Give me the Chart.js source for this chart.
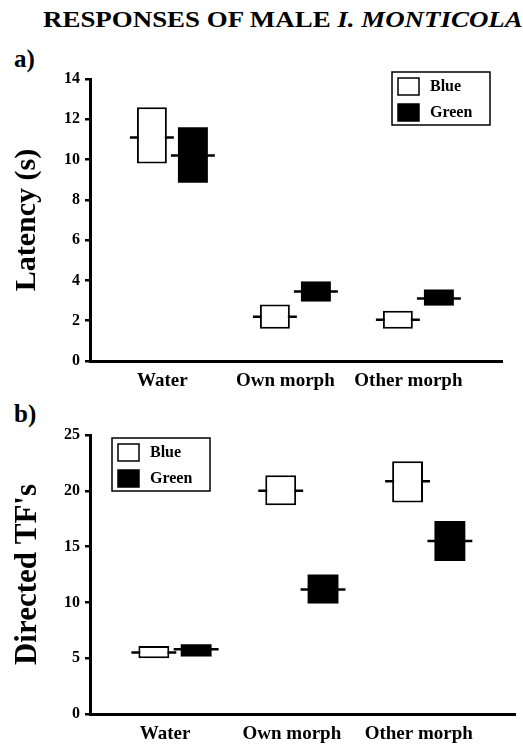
<!DOCTYPE html>
<html>
<head>
<meta charset="utf-8">
<script src="https://cdn.jsdelivr.net/npm/chart.js@4.4.1/dist/chart.umd.min.js"></script>
<style>
  body {
    margin: 0;
    width: 523px;
    height: 746px;
    overflow: hidden;
    background: #fff;
    position: relative;
    font-family: 'Liberation Serif', 'Times New Roman', serif;
  }
  #titulo {
    position: absolute;
    left: 43px;
    top: 7px;
    font-weight: bold;
    font-size: 23px;
    white-space: nowrap;
    transform: scaleX(1.17);
    transform-origin: left top;
  }
  .painel {
    position: absolute;
    left: 14px;
    font-weight: bold;
    font-size: 25px;
  }
  #graficoLatencia { position: absolute; left: 0; top: 0; }
  #graficoTFs { position: absolute; left: 0; top: 395px; }
</style>
</head>
<body>

<div id="titulo">RESPONSES OF MALE <i>I. MONTICOLA</i></div>
<div class="painel" style="top:45px">a)</div>
<div class="painel" style="top:400px">b)</div>

<canvas id="graficoLatencia" width="523" height="395"></canvas>
<canvas id="graficoTFs" width="523" height="351"></canvas>

<script>
// ---------------- DADOS ----------------
const categorias = ['Water', 'Own morph', 'Other morph'];

// a) latência (s)
const latBlueMin = [9.8, 1.6, 1.6];
const latBlueMax = [12.6, 2.8, 2.5];
const latBlueMedia = [11.1, 2.2, 2.05];

const latGreenMin = [8.85, 2.95, 2.75];
const latGreenMax = [11.6, 3.95, 3.55];
const latGreenMedia = [10.2, 3.45, 3.1];

const latTicks = [0, 2, 4, 6, 8, 10, 12, 14];

// b) directed TF's
const tfBlueMin = [5.0, 18.7, 18.95];
const tfBlueMax = [6.1, 21.4, 22.65];
const tfBlueMedia = [5.5, 20.0, 20.85];

const tfGreenMin = [5.15, 9.9, 13.7];
const tfGreenMax = [6.25, 12.5, 17.3];
const tfGreenMedia = [5.8, 11.15, 15.5];

const tfTicks = [0, 5, 10, 15, 20, 25];


Chart.defaults.font.family = "'Liberation Serif', 'Times New Roman', serif";
Chart.defaults.font.weight = 'bold';
Chart.defaults.color = '#000';


// ---------------- PLUGINS ----------------

// linha da média (por trás da caixa, só aparecem as pontas)
const linhaMedia = {
  id: 'linhaMedia',
  beforeDatasetsDraw(chart) {
    const ctx = chart.ctx;
    const y = chart.scales.y;

    chart.data.datasets.forEach((ds, i) => {
      chart.getDatasetMeta(i).data.forEach((barra, j) => {
        const py = y.getPixelForValue(ds.medias[j]);
        ctx.save();
        ctx.strokeStyle = '#000';
        ctx.lineWidth = 2.5;
        ctx.beginPath();
        ctx.moveTo(barra.x - barra.width / 2 - 7, py);
        ctx.lineTo(barra.x + barra.width / 2 + 7, py);
        ctx.stroke();
        ctx.restore();
      });
    });
  }
};

// legenda com moldura
const legendaCaixa = {
  id: 'legendaCaixa',
  afterDraw(chart, args, opts) {
    const ctx = chart.ctx;
    const x = opts.x;
    const y = opts.y;

    ctx.save();
    ctx.fillStyle = '#fff';
    ctx.fillRect(x, y, 98, 53);
    ctx.strokeStyle = '#000';
    ctx.lineWidth = 1.5;
    ctx.strokeRect(x, y, 98, 53);

    chart.data.datasets.forEach((ds, i) => {
      const sy = y + 6 + i * 26;
      ctx.fillStyle = ds.backgroundColor;
      ctx.fillRect(x + 6, sy, 21, 17);
      ctx.lineWidth = 1.5;
      ctx.strokeRect(x + 6, sy, 21, 17);

      ctx.fillStyle = '#000';
      ctx.font = "bold 16px 'Liberation Serif', serif";
      ctx.textBaseline = 'middle';
      ctx.fillText(ds.label, x + 38, sy + 9);
    });
    ctx.restore();
  }
};


// ---------------- FUNÇÃO GRÁFICO ----------------
function criarGrafico(canvasId, opcoes) {

  const pontos = (mins, maxs) =>
    categorias.map((c, i) => ({ x: i + 1, y: [mins[i], maxs[i]] }));

  return new Chart(
    document.getElementById(canvasId),
    {
      type: 'bar',

      data: {
        datasets: [
          {
            label: 'Blue',
            data: pontos(opcoes.blueMin, opcoes.blueMax),
            medias: opcoes.blueMedia,
            backgroundColor: '#fff',
            borderColor: '#000',
            borderWidth: 2,
            borderSkipped: false
          },
          {
            label: 'Green',
            data: pontos(opcoes.greenMin, opcoes.greenMax),
            medias: opcoes.greenMedia,
            backgroundColor: '#000',
            borderWidth: 0
          }
        ]
      },

      options: {
        responsive: false,
        animation: false,
        devicePixelRatio: 1,
        categoryPercentage: 0.667,
        barPercentage: 0.73,

        layout: {
          padding: opcoes.padding
        },

        plugins: {
          legend: { display: false },
          tooltip: { enabled: false },
          legendaCaixa: opcoes.legenda
        },

        scales: {
          x: {
            type: 'linear',
            offset: false,
            min: 0.33,
            max: 3.68,
            afterBuildTicks: scale => {
              scale.ticks = categorias.map((c, i) => ({ value: i + 1 }));
            },
            afterFit: scale => {
              scale.height = opcoes.alturaX;
            },
            grid: { display: false, drawTicks: false },
            border: { display: true, width: 3, color: '#000' },
            ticks: {
              autoSkip: false,
              maxRotation: 0,
              padding: 9,
              labelOffset: -10,
              font: { size: 19, weight: 'bold' },
              callback: v => categorias[v - 1]
            }
          },
          y: {
            min: opcoes.yTicks[0],
            max: opcoes.yTicks[opcoes.yTicks.length - 1],
            afterBuildTicks: scale => {
              scale.ticks = opcoes.yTicks.map(v => ({ value: v }));
            },
            afterFit: scale => {
              scale.width = 81;
            },
            grid: {
              drawOnChartArea: false,
              drawTicks: true,
              tickLength: 5,
              lineWidth: 2.5,
              color: '#000'
            },
            border: { display: true, width: 3, color: '#000' },
            ticks: {
              padding: 5,
              font: { size: 16, weight: 'bold' }
            },
            title: {
              display: true,
              text: opcoes.tituloY,
              font: { size: opcoes.tamanhoTitulo, weight: 'bold' },
              padding: { top: 0, bottom: 0 }
            }
          }
        }
      },

      plugins: [linhaMedia, legendaCaixa]
    }
  );
}


// ---------------- a) LATÊNCIA ----------------
criarGrafico('graficoLatencia', {
  blueMin: latBlueMin,
  blueMax: latBlueMax,
  blueMedia: latBlueMedia,
  greenMin: latGreenMin,
  greenMax: latGreenMax,
  greenMedia: latGreenMedia,
  yTicks: latTicks,
  tituloY: 'Latency (s)',
  tamanhoTitulo: 30,
  padding: { top: 79, right: 21, left: 9, bottom: 0 },
  alturaX: 34,
  legenda: { x: 392, y: 72 }
});


// ---------------- b) DIRECTED TF'S ----------------
criarGrafico('graficoTFs', {
  blueMin: tfBlueMin,
  blueMax: tfBlueMax,
  blueMedia: tfBlueMedia,
  greenMin: tfGreenMin,
  greenMax: tfGreenMax,
  greenMedia: tfGreenMedia,
  yTicks: tfTicks,
  tituloY: "Directed TF's",
  tamanhoTitulo: 31,
  padding: { top: 40, right: 8, left: 9, bottom: 0 },
  alturaX: 32,
  legenda: { x: 112, y: 43 }
});
</script>

</body>
</html>
